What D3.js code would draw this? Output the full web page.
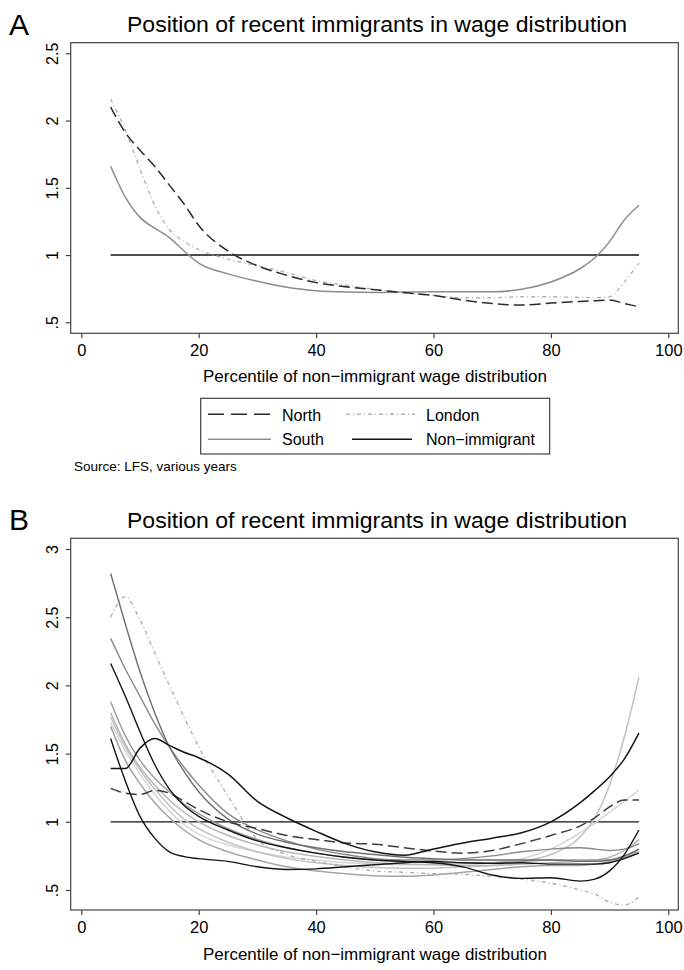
<!DOCTYPE html>
<html><head><meta charset="utf-8">
<script src="https://cdn.jsdelivr.net/npm/d3@7"></script>
<style>
html,body{margin:0;padding:0;background:#fff;}
svg{display:block;font-family:"Liberation Sans",Arial,Helvetica,sans-serif;}
</style></head>
<body>
<svg id="chart" width="684" height="970"></svg>
<script>
// ---------------- DATA ----------------
const xGrid = [5,7.5,10,12.5,15,17.5,20,25,30,35,40,45,50,55,60,65,70,75,80,85,87.5,90,92.5,95];

// Panel A
const northA  = [2.10,1.91,1.78,1.66,1.52,1.38,1.22,1.03,0.92,0.85,0.795,0.765,0.742,0.72,0.70,0.665,0.64,0.628,0.643,0.655,0.66,0.665,0.64,0.615];
const southA  = [1.66,1.43,1.28,1.20,1.13,1.03,0.94,0.86,0.805,0.76,0.735,0.725,0.722,0.725,0.727,0.727,0.727,0.745,0.80,0.90,0.98,1.10,1.26,1.37];
const londonA = [2.16,1.93,1.64,1.37,1.19,1.10,1.04,0.97,0.92,0.87,0.81,0.775,0.745,0.72,0.70,0.683,0.683,0.69,0.69,0.685,0.683,0.69,0.80,0.94];
const nonImmigrant = [1,1];
const nonImmigrantX = [5,95];
const legendLabels = ["North","London","South","Non\u2212immigrant"];

// Panel B (one array per region)
const seriesB1  = [2.82,2.45,2.10,1.80,1.55,1.37,1.22,1.02,0.91,0.85,0.81,0.78,0.76,0.74,0.73,0.72,0.72,0.72,0.72,0.71,0.71,0.72,0.75,0.80];
const seriesB2  = [2.50,2.65,2.48,2.24,2.00,1.77,1.55,1.19,0.87,0.76,0.71,0.67,0.64,0.63,0.62,0.615,0.60,0.58,0.55,0.50,0.47,0.41,0.39,0.45];
const seriesB3  = [2.345,2.12,1.92,1.72,1.55,1.40,1.27,1.06,0.94,0.86,0.80,0.76,0.73,0.72,0.72,0.73,0.75,0.78,0.80,0.81,0.80,0.79,0.80,0.84];
const seriesB4  = [2.16,1.92,1.66,1.42,1.24,1.12,1.04,0.94,0.86,0.81,0.77,0.74,0.72,0.71,0.70,0.67,0.61,0.585,0.59,0.565,0.58,0.64,0.76,0.94];
const seriesB5  = [1.61,1.30,1.04,0.88,0.78,0.745,0.73,0.71,0.67,0.65,0.655,0.67,0.685,0.70,0.71,0.70,0.695,0.70,0.69,0.69,0.69,0.70,0.73,0.77];
const seriesB6  = [1.39,1.39,1.54,1.61,1.56,1.51,1.47,1.35,1.15,1.03,0.93,0.84,0.78,0.755,0.80,0.845,0.88,0.92,1.00,1.14,1.23,1.33,1.46,1.65];
const seriesB7  = [1.245,1.21,1.20,1.23,1.21,1.15,1.09,1.00,0.95,0.90,0.87,0.845,0.835,0.81,0.785,0.77,0.79,0.84,0.90,0.97,1.03,1.11,1.16,1.16];
const seriesB8  = [1.77,1.55,1.38,1.24,1.12,1.02,0.95,0.85,0.78,0.73,0.70,0.68,0.665,0.66,0.66,0.67,0.68,0.71,0.76,0.89,1.03,1.27,1.62,2.06];
const seriesB9  = [1.73,1.52,1.35,1.20,1.08,0.98,0.91,0.83,0.78,0.74,0.72,0.70,0.69,0.685,0.685,0.69,0.70,0.73,0.80,0.92,0.99,1.07,1.15,1.23];
const seriesB10 = [1.88,1.63,1.45,1.32,1.22,1.13,1.06,0.95,0.87,0.81,0.77,0.74,0.72,0.71,0.70,0.70,0.70,0.71,0.72,0.72,0.72,0.72,0.74,0.78];
const seriesB11 = [1.80,1.57,1.40,1.27,1.16,1.07,1.00,0.90,0.83,0.78,0.745,0.72,0.70,0.69,0.685,0.68,0.68,0.69,0.70,0.71,0.72,0.74,0.79,0.87];
const seriesB12 = [1.70,1.45,1.28,1.14,1.03,0.94,0.87,0.78,0.72,0.67,0.64,0.62,0.605,0.60,0.61,0.63,0.65,0.67,0.68,0.68,0.69,0.71,0.74,0.80];

const xTicks = [0,20,40,60,80,100];
const yTicksA = [0.5,1,1.5,2,2.5];
const yTicksB = [0.5,1,1.5,2,2.5,3];
const yTickLabels = {0.5:".5",1:"1",1.5:"1.5",2:"2",2.5:"2.5",3:"3"};
const titleText = "Position of recent immigrants in wage distribution";
const xLabelText = "Percentile of non\u2212immigrant wage distribution";
const sourceText = "Source: LFS, various years";

// ---------------- DRAW ----------------
const svg = d3.select("#chart");
const fontTick = 16;

function panel(cfg){
  const g = svg.append("g");
  const x = d3.scaleLinear().domain([0,100]).range([81.3,668.3]);
  const y = d3.scaleLinear().domain(cfg.yDomain).range(cfg.yRange);
  g.append("text").attr("x",9).attr("y",cfg.letterY).attr("font-size",30).attr("fill","#000").text(cfg.letter);
  g.append("text").attr("x",127).attr("y",cfg.titleY).attr("font-size",22)
    .attr("textLength",500).attr("lengthAdjust","spacingAndGlyphs").attr("fill","#000").text(titleText);
  g.append("rect").attr("x",70.7).attr("y",cfg.boxTop).attr("width",678.3-70.7).attr("height",cfg.boxBottom-cfg.boxTop)
    .attr("fill","none").attr("stroke","#444").attr("stroke-width",1.2);
  const xa = g.append("g").attr("transform",`translate(0,${cfg.boxBottom})`)
    .call(d3.axisBottom(x).tickValues(xTicks).tickSize(5).tickSizeOuter(0).tickPadding(4).tickFormat(d3.format("d")));
  xa.select(".domain").remove();
  xa.selectAll("line").attr("stroke","#444").attr("stroke-width",1.2);
  xa.selectAll("text").attr("font-size",16.5).attr("fill","#000").attr("font-family","Liberation Sans, Arial, sans-serif")
    .attr("dy",null).attr("y",cfg.xTickBase-cfg.boxBottom);
  const ya = g.append("g").attr("transform",`translate(70.7,0)`)
    .call(d3.axisLeft(y).tickValues(cfg.yTicks).tickSize(5).tickSizeOuter(0).tickFormat(d=>yTickLabels[d]));
  ya.select(".domain").remove();
  ya.selectAll("line").attr("stroke","#444").attr("stroke-width",1.2);
  ya.selectAll("text").attr("font-size",fontTick).attr("fill","#000").attr("font-family","Liberation Sans, Arial, sans-serif")
    .attr("x",null).attr("dy",null).attr("text-anchor","middle")
    .attr("transform","translate(-13,0) rotate(-90)");
  g.append("text").attr("x",203).attr("y",cfg.xLabelY).attr("font-size",17)
    .attr("textLength",344).attr("lengthAdjust","spacingAndGlyphs").attr("fill","#000").text(xLabelText);
  return {g,x,y};
}

function drawLine(p, xs, ys, style){
  const line = d3.line().x((d,i)=>p.x(xs[i])).y(d=>p.y(d)).curve(d3.curveMonotoneX);
  p.g.append("path").datum(ys).attr("d",line).attr("fill","none")
    .attr("stroke",style.color).attr("stroke-width",style.width||1.4)
    .attr("stroke-dasharray",style.dash||null).attr("stroke-linejoin","round");
}

// Panel A
const pA = panel({letter:"A",letterY:35,titleY:32,boxTop:42.7,boxBottom:333.3,
  yDomain:[0.5,2.5],yRange:[322.3,53.3],yTicks:yTicksA,xTickBase:355.7,xLabelY:381.7});
const styleNorth = {color:"#2a2a2a",dash:"11,5",width:1.5};
const styleLondon = {color:"#b3b3b3",dash:"4,3,1,3",width:1.4};
const styleSouth = {color:"#8c8c8c",width:1.5};
const styleNon = {color:"#111",width:1.4};
drawLine(pA, nonImmigrantX, nonImmigrant, styleNon);
drawLine(pA, xGrid, southA, styleSouth);
drawLine(pA, xGrid, londonA, styleLondon);
drawLine(pA, xGrid, northA, styleNorth);

// Legend
const lg = svg.append("g");
lg.append("rect").attr("x",200.7).attr("y",398.3).attr("width",349).attr("height",55.7)
  .attr("fill","none").attr("stroke","#333").attr("stroke-width",1.1);
const legendItems = [
  {label:legendLabels[0],style:styleNorth,dash:"16,7",x1:208,x2:271,tx:282,ly:414.3,ty:420.7},
  {label:legendLabels[1],style:styleLondon,dash:"4,3,1,3",x1:346,x2:415,tx:426,ly:414.3,ty:420.7},
  {label:legendLabels[2],style:styleSouth,dash:null,x1:208,x2:271,tx:282,ly:439.3,ty:445},
  {label:legendLabels[3],style:styleNon,dash:null,x1:352,x2:412,tx:426,ly:439.3,ty:445}
];
legendItems.forEach(it=>{
  lg.append("line").attr("x1",it.x1).attr("x2",it.x2).attr("y1",it.ly).attr("y2",it.ly)
    .attr("stroke",it.style.color).attr("stroke-width",it.style.width).attr("stroke-dasharray",it.dash);
  lg.append("text").attr("x",it.tx).attr("y",it.ty).attr("font-size",16).attr("fill","#000").text(it.label);
});
svg.append("text").attr("x",74).attr("y",471).attr("font-size",13.5).attr("fill","#000").text(sourceText);

// Panel B
const pB = panel({letter:"B",letterY:530,titleY:528.3,boxTop:538.3,boxBottom:910,
  yDomain:[0.5,3],yRange:[890,549],yTicks:yTicksB,xTickBase:933,xLabelY:960});
drawLine(pB, nonImmigrantX, nonImmigrant, {color:"#111",width:1.3});
const bStyles = [
  [seriesB9, {color:"#d6d6d6",width:1.5}],
  [seriesB8, {color:"#c2c2c2",width:1.5}],
  [seriesB11,{color:"#b8b8b8",width:1.5}],
  [seriesB12,{color:"#a4a4a4",width:1.5}],
  [seriesB10,{color:"#999999",width:1.4}],
  [seriesB3, {color:"#8a8a8a",width:1.4}],
  [seriesB1, {color:"#6e6e6e",width:1.4}],
  [seriesB2, {color:"#b0b0b0",width:1.4,dash:"4,3,1,3"}],
  [seriesB7, {color:"#3c3c3c",width:1.5,dash:"11,5"}],
  [seriesB5, {color:"#151515",width:1.4}],
  [seriesB4, {color:"#151515",width:1.4}],
  [seriesB6, {color:"#151515",width:1.5}]
];
bStyles.forEach(([ys,st])=>drawLine(pB, xGrid, ys, st));
</script>
</body></html>
